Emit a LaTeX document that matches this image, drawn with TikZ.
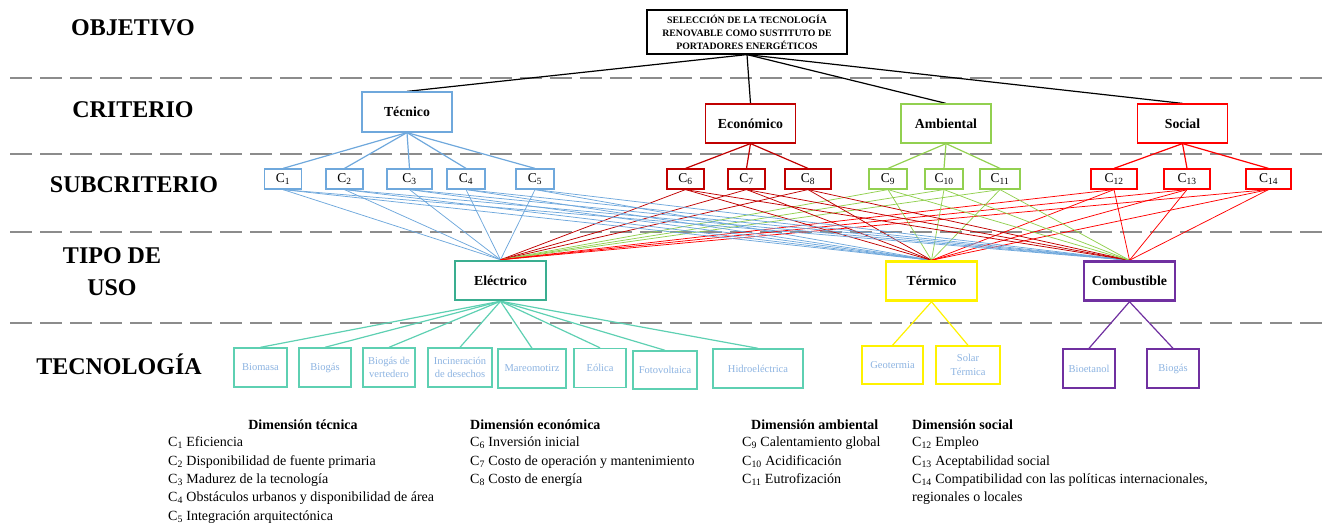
\documentclass[tikz,border=0pt]{standalone}
\usepackage{fontspec}
\setmainfont{Liberation Serif}
\usetikzlibrary{backgrounds}
\definecolor{cblue}{HTML}{6FA8DC}
\definecolor{cdred}{HTML}{C00000}
\definecolor{cgreen}{HTML}{92D050}
\definecolor{cred}{HTML}{FF0000}
\definecolor{cteal}{HTML}{3AAE90}
\definecolor{cteall}{HTML}{5ED0B2}
\definecolor{cyel}{HTML}{FFF200}
\definecolor{cpurp}{HTML}{7030A0}
\definecolor{ctext}{HTML}{8DB4E2}
\definecolor{cgray}{HTML}{8C8C8C}
\begin{document}
\begin{tikzpicture}[x=1pt,y=-1pt]
\tikzset{
 rowlbl/.style={font=\fontsize{24}{32}\selectfont\bfseries, align=center, inner sep=0pt},
 topbox/.style={draw, fill=white, minimum width=200pt, minimum height=44pt, inner sep=0pt, line width=1.2pt, align=center, font=\fontsize{9.8}{13}\selectfont\bfseries},
 critbox/.style={draw, fill=white, minimum width=90pt, minimum height=39pt, inner sep=0pt, line width=1.2pt, font=\fontsize{13.8}{16}\selectfont\bfseries},
 subbox/.style={draw, fill=white, minimum height=20pt, inner sep=0pt, line width=1.2pt, font=\fontsize{13.5}{15}\selectfont},
 usebox/.style={draw, fill=white, minimum width=91pt, minimum height=39pt, inner sep=0pt, line width=2.5pt, font=\fontsize{13.8}{16}\selectfont\bfseries},
 techbox/.style={draw, fill=white, minimum height=38pt, inner sep=0pt, line width=1.4pt, text=ctext, align=center, font=\fontsize{10.5}{13.5}\selectfont},
 lnk/.style={line width=1.2pt},
 thinlnk/.style={line width=0.75pt},
 sepline/.style={draw=cgray, line width=1.2pt, dash pattern=on 22pt off 8pt},
 legtxt/.style={font=\fontsize{14}{16}\selectfont, inner sep=0pt, anchor=base west},
 leghead/.style={font=\fontsize{14}{16}\selectfont\bfseries, inner sep=0pt, anchor=base},
}
\useasboundingbox (0,0) rectangle (1323,526);

% row labels
\node[rowlbl] (lobj) at (133,28) {OBJETIVO};
\node[rowlbl] (lcri) at (133,110) {CRITERIO};
\node[rowlbl] (lsub) at (134,185) {SUBCRITERIO};
\node[rowlbl] (ltip) at (112,272) {TIPO DE\\USO};
\node[rowlbl] (ltec) at (119,364) {TECNOLOGÍA};

% nodes
\node[topbox] (top) at (747,32) {SELECCIÓN DE LA TECNOLOGÍA\\RENOVABLE COMO SUSTITUTO DE\\PORTADORES ENERGÉTICOS};

\node[critbox, draw=cblue, minimum height=40pt] (tec) at (407,112) {Técnico};
\node[critbox, draw=cdred] (eco) at (750.5,123.5) {Económico};
\node[critbox, draw=cgreen] (amb) at (946,123.5) {Ambiental};
\node[critbox, draw=cred] (soc) at (1182.5,123.5) {Social};

\node[subbox, draw=cblue, minimum width=37pt] (c1) at (283,179) {C\textsubscript{1}};
\node[subbox, draw=cblue, minimum width=37pt] (c2) at (344.5,179) {C\textsubscript{2}};
\node[subbox, draw=cblue, minimum width=45pt] (c3) at (409.5,179) {C\textsubscript{3}};
\node[subbox, draw=cblue, minimum width=38pt] (c4) at (466,179) {C\textsubscript{4}};
\node[subbox, draw=cblue, minimum width=38pt] (c5) at (535,179) {C\textsubscript{5}};
\node[subbox, draw=cdred, minimum width=37pt] (c6) at (685.5,179) {C\textsubscript{6}};
\node[subbox, draw=cdred, minimum width=37pt] (c7) at (746.5,179) {C\textsubscript{7}};
\node[subbox, draw=cdred, minimum width=46pt] (c8) at (808,179) {C\textsubscript{8}};
\node[subbox, draw=cgreen, minimum width=38pt] (c9) at (888,179) {C\textsubscript{9}};
\node[subbox, draw=cgreen, minimum width=38pt] (c10) at (944,179) {C\textsubscript{10}};
\node[subbox, draw=cgreen, minimum width=40pt] (c11) at (1000,179) {C\textsubscript{11}};
\node[subbox, draw=cred, minimum width=46pt] (c12) at (1114,179) {C\textsubscript{12}};
\node[subbox, draw=cred, minimum width=46pt] (c13) at (1187,179) {C\textsubscript{13}};
\node[subbox, draw=cred, minimum width=45pt] (c14) at (1268.5,179) {C\textsubscript{14}};

\node[usebox, draw=cteal] (ele) at (500.5,280.5) {Eléctrico};
\node[usebox, draw=cyel] (ter) at (931.5,281) {Térmico};
\node[usebox, draw=cpurp] (com) at (1129.5,281) {Combustible};

\node[techbox, draw=cteall, minimum width=53pt, minimum height=39pt] (t1) at (260.5,367.5) {Biomasa};
\node[techbox, draw=cteall, minimum width=52pt, minimum height=39pt] (t2) at (325,367.5) {Biogás};
\node[techbox, draw=cteall, minimum width=52pt, minimum height=39pt] (t3) at (389,367.5) {Biogás de\\vertedero};
\node[techbox, draw=cteall, minimum width=64pt, minimum height=39pt] (t4) at (460,367.5) {Incineración\\de desechos};
\node[techbox, draw=cteall, minimum width=68pt, minimum height=39pt] (t5) at (532,368.5) {Mareomotirz};
\node[techbox, draw=cteall, minimum width=52pt, minimum height=39pt] (t6) at (600,368) {Eólica};
\node[techbox, draw=cteall, minimum width=64pt] (t7) at (665,370) {Fotovoltaica};
\node[techbox, draw=cteall, minimum width=90pt, minimum height=39pt] (t8) at (758,368.5) {Hidroeléctrica};
\node[techbox, draw=cyel, minimum width=61pt] (t9) at (892.5,365) {Geotermia};
\node[techbox, draw=cyel, minimum width=64pt] (t10) at (968,365) {Solar\\Térmica};
\node[techbox, draw=cpurp, minimum width=52pt, minimum height=39pt] (t11) at (1089,368.5) {Bioetanol};
\node[techbox, draw=cpurp, minimum width=52pt, minimum height=39pt] (t12) at (1173,368.5) {Biogás};

% connectors and separators behind boxes
\begin{pgfonlayer}{background}
\draw[sepline] (10,78) -- (1323,78);
\draw[sepline] (10,154) -- (1323,154);
\draw[sepline] (10,232) -- (1323,232);
\draw[sepline] (10,323) -- (1323,323);

\foreach \k in {tec,eco,amb,soc} \draw[lnk] (top.south) -- (\k.north);

\foreach \i in {1,...,5} \draw[lnk, cblue] (tec.south) -- (c\i.north);
\foreach \i in {6,7,8} \draw[lnk, cdred] (eco.south) -- (c\i.north);
\foreach \i in {9,10,11} \draw[lnk, cgreen] (amb.south) -- (c\i.north);
\foreach \i in {12,13,14} \draw[lnk, cred] (soc.south) -- (c\i.north);

\foreach \u in {ele,ter,com} {
  \foreach \i in {1,...,5} \draw[thinlnk, cblue] (c\i.south) -- (\u.north);
  \foreach \i in {6,7,8} \draw[thinlnk, cdred] (c\i.south) -- (\u.north);
  \foreach \i in {9,10,11} \draw[thinlnk, cgreen] (c\i.south) -- (\u.north);
  \foreach \i in {12,13,14} \draw[thinlnk, cred] (c\i.south) -- (\u.north);
}

\foreach \i in {1,...,8} \draw[lnk, cteall] (ele.south) -- (t\i.north);
\foreach \i in {9,10} \draw[lnk, cyel] (ter.south) -- (t\i.north);
\foreach \i in {11,12} \draw[lnk, cpurp] (com.south) -- (t\i.north);
\end{pgfonlayer}

% legend
\node[leghead] (h1) at (303,429.5) {Dimensión técnica};
\node[legtxt] (l1) at (168,446.5) {C\textsubscript{1} Eficiencia};
\node[legtxt] (l2) at (168,465) {C\textsubscript{2} Disponibilidad de fuente primaria};
\node[legtxt] (l3) at (168,483.4) {C\textsubscript{3} Madurez de la tecnología};
\node[legtxt] (l4) at (168,501.8) {C\textsubscript{4} Obstáculos urbanos y disponibilidad de área};
\node[legtxt] (l5) at (168,520.2) {C\textsubscript{5} Integración arquitectónica};

\node[leghead, anchor=base west] (h2) at (470,429.5) {Dimensión económica};
\node[legtxt] (l6) at (470,446.5) {C\textsubscript{6} Inversión inicial};
\node[legtxt] (l7) at (470,465) {C\textsubscript{7} Costo de operación y mantenimiento};
\node[legtxt] (l8) at (470,483.4) {C\textsubscript{8} Costo de energía};

\node[leghead, anchor=base west] (h3) at (751,429.5) {Dimensión ambiental};
\node[legtxt] (l9) at (742,446.5) {C\textsubscript{9} Calentamiento global};
\node[legtxt] (l10) at (742,465) {C\textsubscript{10} Acidificación};
\node[legtxt] (l11) at (742,483.4) {C\textsubscript{11} Eutrofización};

\node[leghead, anchor=base west] (h4) at (912,429.5) {Dimensión social};
\node[legtxt] (l12) at (912,446.5) {C\textsubscript{12} Empleo};
\node[legtxt] (l13) at (912,465) {C\textsubscript{13} Aceptabilidad social};
\node[legtxt] (l14) at (912,483.4) {C\textsubscript{14} Compatibilidad con las políticas internacionales,};
\node[legtxt] (l14b) at (912,501.8) {regionales o locales};
\end{tikzpicture}
\end{document}
